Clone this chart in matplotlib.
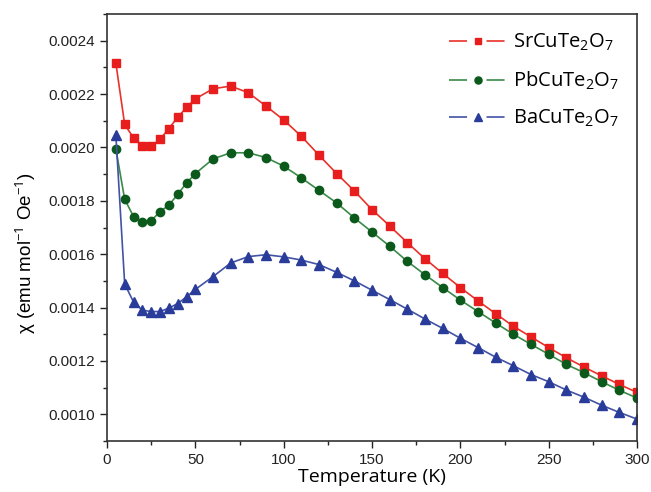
import matplotlib
matplotlib.use("Agg")
import matplotlib.pyplot as plt
from matplotlib.lines import Line2D
from matplotlib.ticker import MultipleLocator, FormatStrFormatter

plt.rcParams["mathtext.fontset"] = "custom"
plt.rcParams["mathtext.rm"] = "Open Sans"
plt.rcParams["mathtext.it"] = "Open Sans"
plt.rcParams["lines.scale_dashes"] = False

# temperatures (K)
temp = [5, 10, 15, 20, 25, 30, 35, 40, 45, 50, 60, 70, 80, 90, 100, 110, 120,
        130, 140, 150, 160, 170, 180, 190, 200, 210, 220, 230, 240, 250, 260,
        270, 280, 290, 300]

# susceptibility (emu mol^-1 Oe^-1)
sr_chi = [0.002316, 0.002086, 0.002036, 0.002005, 0.002005, 0.002030, 0.002071,
          0.002113, 0.002150, 0.002182, 0.002220, 0.002230, 0.002205, 0.002155,
          0.002103, 0.002042, 0.001971, 0.001902, 0.001837, 0.001767, 0.001706,
          0.001643, 0.001583, 0.001528, 0.001475, 0.001425, 0.001377, 0.001330,
          0.001290, 0.001250, 0.001212, 0.001177, 0.001144, 0.001112, 0.001082]
pb_chi = [0.001994, 0.001806, 0.001741, 0.001721, 0.001726, 0.001759, 0.001784,
          0.001824, 0.001867, 0.001902, 0.001957, 0.001980, 0.001980, 0.001962,
          0.001930, 0.001886, 0.001839, 0.001792, 0.001736, 0.001683, 0.001630,
          0.001573, 0.001523, 0.001475, 0.001428, 0.001385, 0.001342, 0.001300,
          0.001262, 0.001225, 0.001187, 0.001156, 0.001122, 0.001090, 0.001061]
ba_chi = [0.002046, 0.001488, 0.001421, 0.001390, 0.001385, 0.001385, 0.001398,
          0.001415, 0.001440, 0.001468, 0.001516, 0.001567, 0.001591, 0.001598,
          0.001590, 0.001578, 0.001561, 0.001532, 0.001500, 0.001465, 0.001430,
          0.001394, 0.001357, 0.001322, 0.001285, 0.001250, 0.001214, 0.001182,
          0.001149, 0.001122, 0.001091, 0.001064, 0.001034, 0.001007, 0.000982]

labels = ["SrCuTe$_2$O$_7$", "PbCuTe$_2$O$_7$", "BaCuTe$_2$O$_7$"]

# line colour, marker colour, marker, size
styles = [("#e8322a", "#e81e1e", "s", 5.5),
          ("#3a8a48", "#0b5a1c", "o", 6),
          ("#4252a4", "#2a3c9a", "^", 6.5)]

fig = plt.figure(figsize=(6.51, 4.92), dpi=100)
ax = fig.add_axes([0.1644, 0.1037, 0.8141, 0.8678])

handles = []
for series, lab, (lc, mc, mk, ms) in zip([sr_chi, pb_chi, ba_chi], labels, styles):
    ax.plot(temp, series, "-", marker=mk, color=lc, mfc=mc, mec=mc, ms=ms, lw=1.2)
    # legend proxy: line - marker - line with gaps
    handles.append(Line2D([], [], color=lc, lw=1.2, marker=mk, mfc=mc, mec=mc,
                          ms=ms * 0.85, dashes=(13, 14, 13, 100)))

ax.set_xlim(0, 300)
ax.set_ylim(0.0009, 0.0025)
ax.xaxis.set_major_locator(MultipleLocator(50))
ax.xaxis.set_minor_locator(MultipleLocator(25))
ax.yaxis.set_major_locator(MultipleLocator(0.0002))
ax.yaxis.set_minor_locator(MultipleLocator(0.0001))
ax.yaxis.set_major_formatter(FormatStrFormatter("%.4f"))

ax.tick_params(which="both", direction="out", top=False, right=False,
               labelsize=11, colors="#222222")
ax.tick_params(which="major", length=5, width=1)
ax.tick_params(which="minor", length=3, width=1)
for lab in ax.get_xticklabels() + ax.get_yticklabels():
    lab.set_family("Liberation Sans")
for s in ax.spines.values():
    s.set_linewidth(1.2)
    s.set_color("#333333")

ax.set_xlabel("Temperature (K)", fontsize=14, family="Open Sans", labelpad=1)
ax.set_ylabel("χ (emu mol$^{-1}$ Oe$^{-1}$)", fontsize=13.5, family="Liberation Sans")
ax.yaxis.set_label_coords(-0.13, 0.44)

ax.legend(handles, labels, loc="upper right", frameon=False,
          handlelength=2.9, labelspacing=0.8, handletextpad=0.3,
          borderaxespad=0.5, prop={"family": "Open Sans", "size": 14.5})

plt.savefig("out.png", dpi=100)
